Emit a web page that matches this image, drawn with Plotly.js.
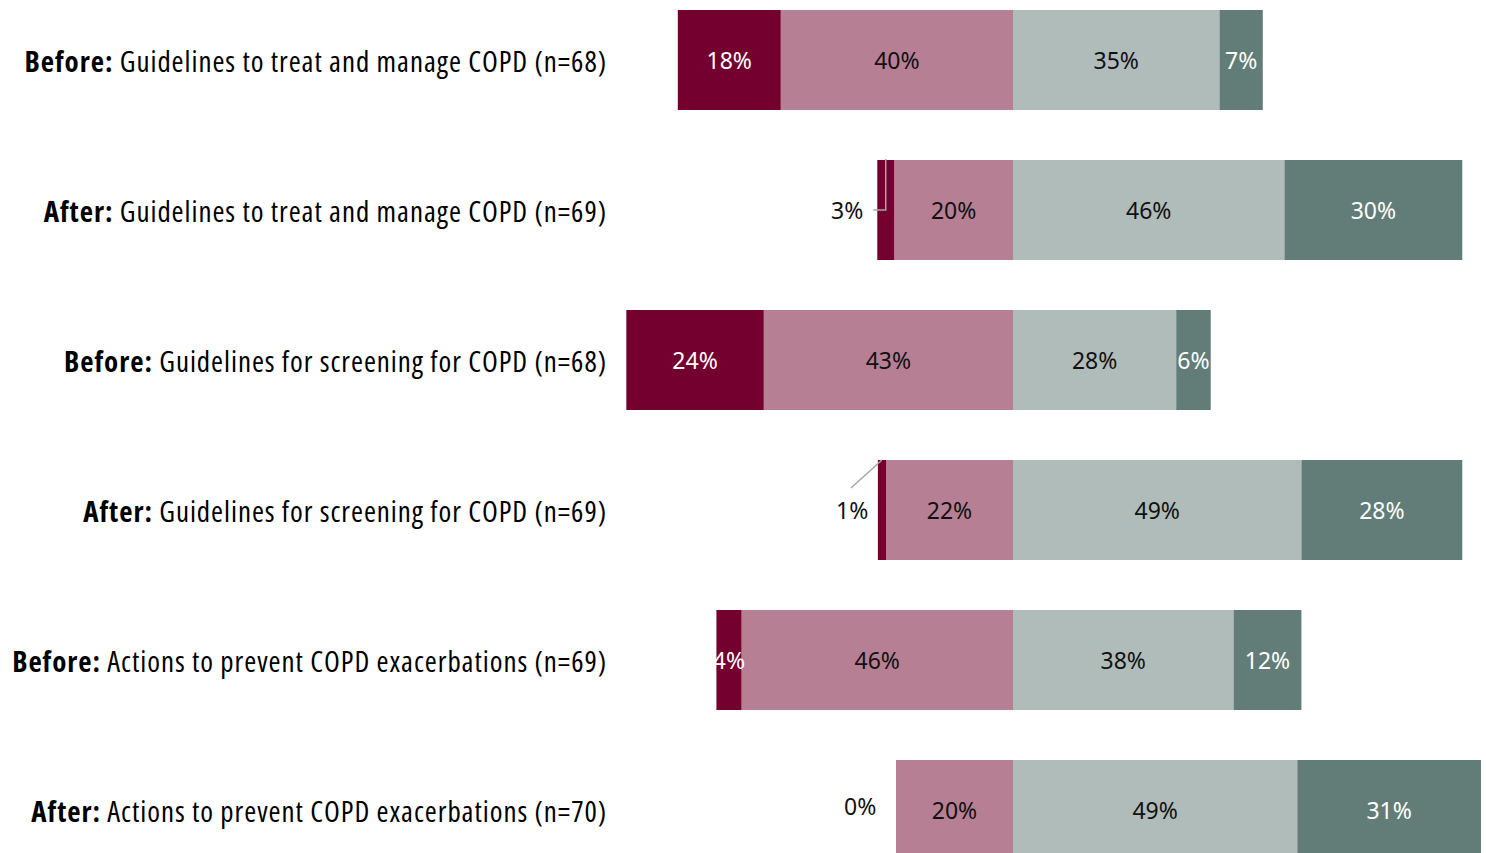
<!DOCTYPE html>
<html>
<head>
<meta charset="utf-8">
<script src="https://cdn.plot.ly/plotly-3.0.1.min.js"></script>
<style>
html,body{margin:0;padding:0;background:#fff;}
#chart{width:1486px;height:853px;}
/* category labels (annotations 0..5): condensed Open Sans with a little tracking */
#chart .annotation[data-index="0"] text,
#chart .annotation[data-index="1"] text,
#chart .annotation[data-index="2"] text,
#chart .annotation[data-index="3"] text,
#chart .annotation[data-index="4"] text,
#chart .annotation[data-index="5"] text { font-stretch: 85%; letter-spacing: 0.95px; }
</style>
</head>
<body>
<div id="chart"></div>
<script>
// Data (percent of respondents)
const prefixes = ["Before:", "After:", "Before:", "After:", "Before:", "After:"];
const topics = [
  "Guidelines to treat and manage COPD (n=68)",
  "Guidelines to treat and manage COPD (n=69)",
  "Guidelines for screening for COPD (n=68)",
  "Guidelines for screening for COPD (n=69)",
  "Actions to prevent COPD exacerbations (n=69)",
  "Actions to prevent COPD exacerbations (n=70)"
];
const seriesDark1 = [17.6, 2.9, 23.5, 1.4, 4.3, 0.0];   // maroon (left, outer)
const seriesLight1 = [39.7, 20.3, 42.6, 21.7, 46.4, 20.0]; // pink (left, inner)
const seriesLight2 = [35.3, 46.4, 27.9, 49.3, 37.7, 48.6]; // light grey (right, inner)
const seriesDark2 = [7.4, 30.4, 5.9, 27.5, 11.6, 31.4];   // dark green (right, outer)

const colors = {dark1: "#73002F", light1: "#B77F94", light2: "#B0BCB9", dark2: "#627D77"};
const FS = 23;
const labelFont = "Noto Sans, sans-serif";
const catFont = "Open Sans, sans-serif";

const idx = topics.map((_, i) => i);
const pct = v => Math.round(v) + "%";
const SMALL = 4; // segments narrower than this get an outside label

function barTrace(vals, sign, color, textColor, hideSmall) {
  return {
    type: "bar", orientation: "h",
    y: idx, x: vals.map(v => sign * v),
    marker: {color: color, line: {width: 0}},
    text: vals.map(v => (hideSmall && v < SMALL) ? "" : pct(v)),
    textposition: "inside", insidetextanchor: "middle", textangle: 0,
    textfont: {family: labelFont, size: FS, color: textColor},
    hoverinfo: "skip", width: 2 / 3, showlegend: false
  };
}

const traces = [
  barTrace(seriesLight1, -1, colors.light1, "#111111", false),
  barTrace(seriesDark1, -1, colors.dark1, "#ffffff", true),
  barTrace(seriesLight2, 1, colors.light2, "#111111", false),
  barTrace(seriesDark2, 1, colors.dark2, "#ffffff", false)
];

// layout geometry
const W = 1486, H = 853, L = 620;
const LABEL_GAP = 13;
const pxPerPct = 5.85, zeroPx = 1013;
const xr = [-(zeroPx - L) / pxPerPct, (W - zeroPx) / pxPerPct];
const pxPerRow = 150;
const yTop = -60 / pxPerRow;
const yr = [yTop + H / pxPerRow, yTop];
const px = p => p / pxPerPct;      // pixels -> x data units
const py = p => p / pxPerRow;      // pixels -> y data units

const annotations = [];
const shapes = [];
idx.forEach(i => {
  annotations.push({
    xref: "paper", yref: "y", x: 0, y: i, xanchor: "right", yanchor: "middle",
    xshift: -LABEL_GAP, yshift: 0, showarrow: false,
    text: "<b>" + prefixes[i] + "</b> " + topics[i],
    font: {family: catFont, size: 29, color: "#000"}
  });
});
idx.forEach(i => {
  const v = seriesDark1[i];
  if (v < SMALL) {
    const leftEdge = -(seriesLight1[i] + v);
    const segMid = -(seriesLight1[i] + v / 2);
    const top = i - 1 / 3;
    const f = {family: labelFont, size: FS, color: "#111111"};
    if (v === 0) {
      annotations.push({xref: "x", yref: "y", x: leftEdge, y: i, xanchor: "right", yanchor: "middle",
        xshift: -18, yshift: 4, showarrow: false, text: pct(v), font: f});
    } else if (i === 1) {
      annotations.push({xref: "x", yref: "y", x: leftEdge, y: i, xanchor: "right", yanchor: "middle",
        xshift: -12, showarrow: false, text: pct(v), font: f});
      shapes.push({type: "path", xref: "x", yref: "y",
        path: `M ${leftEdge - px(4)} ${i} L ${segMid} ${i} L ${segMid} ${top - py(1)}`,
        line: {color: "#A6A6A6", width: 1.5}});
    } else {
      annotations.push({xref: "x", yref: "y", x: leftEdge, y: i, xanchor: "right", yanchor: "middle",
        xshift: -8, showarrow: false, text: pct(v), font: f});
      shapes.push({type: "line", xref: "x", yref: "y",
        x0: segMid - px(31), y0: top + py(28), x1: segMid, y1: top,
        line: {color: "#A6A6A6", width: 1.5}});
    }
  }
});

const layout = {
  width: W, height: H,
  margin: {l: L, r: 0, t: 0, b: 0, pad: 0},
  paper_bgcolor: "#fff", plot_bgcolor: "#fff",
  barmode: "relative",
  showlegend: false,
  uniformtext: {mode: "show", minsize: FS},
  xaxis: {range: xr, visible: false, fixedrange: true},
  yaxis: {range: yr, visible: false, fixedrange: true},
  annotations: annotations,
  shapes: shapes
};

Plotly.newPlot("chart", traces, layout, {staticPlot: true, displayModeBar: false}).then(() => {
  // Plotly measured the labels before the condensed style; re-align their right edges.
  const chartLeft = document.getElementById("chart").getBoundingClientRect().left;
  document.querySelectorAll("#chart .annotation").forEach(g => {
    const k = +g.getAttribute("data-index");
    if (k < topics.length) {
      const t = g.querySelector("text");
      if (!t) return;
      const right = t.getBoundingClientRect().right - chartLeft;
      const dx = (L - LABEL_GAP) - right;
      if (Math.abs(dx) > 0.5) {
        const prev = g.getAttribute("transform") || "";
        g.setAttribute("transform", `translate(${dx},0) ${prev}`);
      }
    }
  });
});
</script>
</body>
</html>
